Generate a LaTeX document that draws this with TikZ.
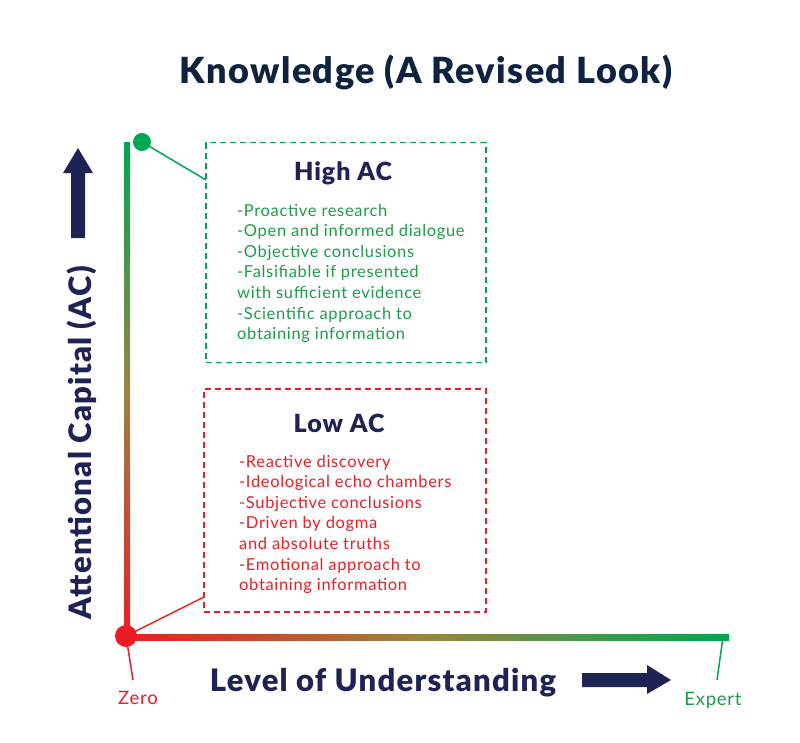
\documentclass[tikz,border=0pt]{standalone}
\usepackage{fontspec}
\setmainfont{Lato}[LetterSpace=4, BoldFont={Lato Black}]
\usetikzlibrary{positioning}

\definecolor{navy}{HTML}{1F2354}
\definecolor{titleblue}{HTML}{0D2340}
\definecolor{hgreen}{HTML}{00A651}
\definecolor{tgreen}{HTML}{1E9A4A}
\definecolor{lred}{HTML}{ED1C24}
\definecolor{midolive}{HTML}{968642}

\begin{document}
\begin{tikzpicture}[
        x=1pt, y=-1pt,
        box/.style={draw, dashed, dash pattern=on 6pt off 4pt, line width=1.3pt, rectangle, inner sep=0pt},
        dot/.style={circle, inner sep=0pt},
        head/.style={font=\bfseries\fontsize{25}{30}\selectfont, text=navy, anchor=base},
        item/.style={font=\fontsize{16.5}{20}\selectfont, anchor=base west, inner sep=0pt},
        axislabel/.style={font=\bfseries\fontsize{31}{38}\selectfont, text=navy, anchor=base},
        endlabel/.style={font=\fontsize{18.5}{22}\selectfont, anchor=base}]

        \useasboundingbox (0,0) rectangle (800,742);

        % Title
        \node (title) [font=\bfseries\fontsize{36}{42}\selectfont, text=titleblue, anchor=base] at (426,83) {Knowledge (A Revised Look)};

        % Axes
        \shade[top color=hgreen, bottom color=lred, middle color=midolive] (124,142) rectangle (130,637);
        \shade[left color=lred, right color=hgreen, middle color=midolive] (125,634) rectangle (729,640);

        % Big arrows
        \fill[navy] (71,238) -- (71,173) -- (63,173) -- (78,148) -- (93,173) -- (85,173) -- (85,238) -- cycle;
        \fill[navy] (582,673) -- (647,673) -- (647,665) -- (671,680) -- (647,694) -- (647,687) -- (582,687) -- cycle;

        % Boxes
        \node (hibox) [box, draw=hgreen, minimum width=280pt, minimum height=220pt] at (346,252.5) {};
        \node (lobox) [box, draw=lred, minimum width=282pt, minimum height=223pt] at (345,500.5) {};

        \node (hihead) [head] at (343,180) {High AC};
        \node (lohead) [head] at (339,432) {Low AC};

        \foreach \txt [count=\i] in {-Proactive research, -Open and informed dialogue, -Objective conclusions,
                -Falsifiable if presented, with sufficient evidence, -Scientific approach to, obtaining information}
            \node (hi-\i) [item, text=tgreen] at (237,{216+20.6*(\i-1)}) {\txt};

        \foreach \txt [count=\i] in {-Reactive discovery, -Ideological echo chambers, -Subjective conclusions,
                -Driven by dogma, and absolute truths, -Emotional approach to, obtaining information}
            \node (lo-\i) [item, text=lred] at (239,{467+20.6*(\i-1)}) {\txt};

        % Dots and leaders
        \coordinate (hitip) at (206,180);
        \coordinate (lotip) at (204,597);
        \coordinate (zerotip) at (133,680);
        \coordinate (exptop) at (723,637);
        \coordinate (exptip) at (717,680);

        \draw[hgreen, line width=1.5pt] (142,142) -- (hitip);
        \node (hidot) [dot, fill=hgreen, minimum size=18pt] at (142,142) {};

        \draw[lred, line width=1.5pt] (126,636) -- (lotip);
        \draw[lred, line width=1.5pt] (126,636) -- (zerotip);
        \node (lodot) [dot, fill=lred, minimum size=22pt] at (126,636) {};

        \draw[hgreen, line width=1.5pt] (exptop) -- (exptip);

        % Axis labels
        \node (xlabel) [axislabel] at (383,691) {Level of Understanding};
        \node (ylabel) [axislabel, rotate=90] at (91,443) {Attentional Capital (AC)};

        \node (zero) [endlabel, text=lred] at (138,704) {Zero};
        \node (expert) [endlabel, text=tgreen] at (713,705) {Expert};
\end{tikzpicture}
\end{document}
